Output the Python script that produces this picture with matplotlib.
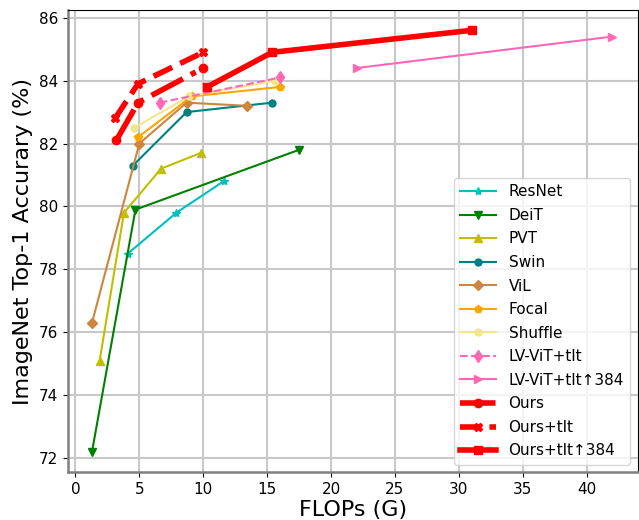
import matplotlib
matplotlib.use('Agg')
import matplotlib.pyplot as plt

# FLOPs (G) and top-1 accuracy (%)
resnet_x = [4.1, 7.9, 11.6]
resnet_y = [78.5, 79.8, 80.8]
deit_x = [1.3, 4.7, 17.5]
deit_y = [72.2, 79.9, 81.8]
pvt_x = [1.9, 3.8, 6.7, 9.8]
pvt_y = [75.1, 79.8, 81.2, 81.7]
swin_x = [4.5, 8.7, 15.4]
swin_y = [81.3, 83.0, 83.3]
vil_x = [1.3, 5.0, 8.7, 13.4]
vil_y = [76.3, 82.0, 83.3, 83.2]
focal_x = [4.9, 9.1, 16.0]
focal_y = [82.2, 83.5, 83.8]
shuffle_x = [4.6, 8.9, 15.6]
shuffle_y = [82.5, 83.5, 84.0]
lvvit_x = [6.6, 16.0]
lvvit_y = [83.3, 84.1]
lvvit384_x = [22.0, 42.0]
lvvit384_y = [84.4, 85.4]
ours_x = [3.2, 4.9, 10.0]
ours_y = [82.1, 83.3, 84.4]
ourstlt_x = [3.1, 4.9, 10.0]
ourstlt_y = [82.8, 83.9, 84.9]
ours384_x = [10.3, 15.4, 31.0]
ours384_y = [83.8, 84.9, 85.6]

fig = plt.figure(figsize=(6.39, 5.2), dpi=100)
ax = fig.add_axes([0.106, 0.092, 0.892, 0.889])

ax.plot(resnet_x, resnet_y, '-*', color='c', label='ResNet')
ax.plot(deit_x, deit_y, '-v', color='green', label='DeiT')
ax.plot(pvt_x, pvt_y, '-^', color='y', label='PVT')
ax.plot(swin_x, swin_y, '-o', color='teal', label='Swin', markersize=5)
ax.plot(vil_x, vil_y, '-D', color='peru', label='ViL', markersize=5)
ax.plot(focal_x, focal_y, '-p', color='orange', label='Focal')
ax.plot(shuffle_x, shuffle_y, '-o', color='khaki', label='Shuffle', markersize=5)
ax.plot(lvvit_x, lvvit_y, '--d', color='hotpink', label='LV-ViT+tlt')
ax.plot(lvvit384_x, lvvit384_y, '->', color='hotpink', label='LV-ViT+tlt\u2191384')
ax.plot(ours_x, ours_y, '-.o', color='red', lw=4, markersize=6, label='Ours')
ax.plot(ourstlt_x, ourstlt_y, '--X', color='red', lw=4, markersize=6, label='Ours+tlt')
ax.plot(ours384_x, ours384_y, '-s', color='red', lw=4, markersize=6, label='Ours+tlt\u2191384')

ax.set_xlim(-0.6, 44)
ax.set_ylim(71.55, 86.25)
ax.set_xticks(range(0, 45, 5))
ax.set_yticks(range(72, 87, 2))
ax.tick_params(labelsize=11)
ax.grid(True, color='#c8c8c8', lw=1.5)
ax.set_axisbelow(True)
ax.spines['left'].set_color('#808080')
ax.spines['left'].set_linewidth(1.8)
ax.spines['bottom'].set_color('#808080')
ax.spines['bottom'].set_linewidth(1.8)

ax.set_xlabel('FLOPs (G)', fontsize=16, labelpad=2)
ax.set_ylabel('ImageNet Top-1 Accurary (%)', fontsize=16, labelpad=4)
ax.legend(loc='lower right', fontsize=11, labelspacing=0.56, handlelength=2.4)

fig.savefig('out.png')
